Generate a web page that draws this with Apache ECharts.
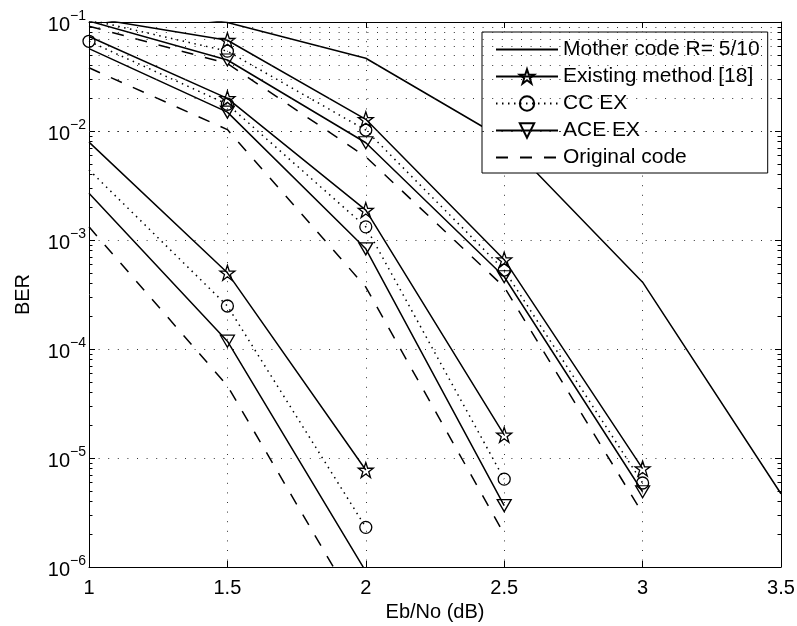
<!DOCTYPE html>
<html>
<head>
<meta charset="utf-8">
<script src="https://cdn.jsdelivr.net/npm/echarts@6/dist/echarts.min.js"></script>
<style>
html, body { margin: 0; padding: 0; background: #fff; }
#main { width: 797px; height: 626px; }
</style>
</head>
<body>
<div id="main"></div>
<script>
var ebno = [1, 1.5, 2, 2.5, 3, 3.5];

var motherCode = [0.14, 0.099, 0.0465, 0.0084, 4.1e-4, 4.7e-6];

// three groups of curves: A (top right), B (middle), C (bottom left)
var existingA = [0.11, 0.068, 0.0128, 6.6e-4, 8.0e-6];
var existingB = [0.0736, 0.0199, 1.88e-3, 1.63e-5];
var existingC = [7.9e-3, 5.0e-4, 7.76e-6];

var ccA = [0.105, 0.054, 0.0102, 5.3e-4, 5.9e-6];
var ccB = [0.0665, 0.0176, 1.32e-3, 6.4e-6];
var ccC = [4.4e-3, 2.48e-4, 2.31e-6];

var aceA = [0.102, 0.0448, 0.0078, 4.6e-4, 4.9e-6];
var aceB = [0.057, 0.0149, 8.3e-4, 3.66e-6];
var aceC = [2.68e-3, 1.18e-4, 9.1e-7];

var origA = [0.0915, 0.0416, 0.0058, 3.7e-4, 3.1e-6];
var origB = [0.038, 0.0103, 3.7e-4, 2.0e-6];
var origC = [1.32e-3, 4.6e-5, 3.1e-7];

var names = ['Mother code R= 5/10', 'Existing method [18]', 'CC EX', 'ACE EX', 'Original code'];

var FONT = '"Liberation Sans", Arial, Helvetica, sans-serif';
var STAR = 'path://M50,2 L61.8,36.3 L97.6,36.3 L68.6,57.6 L79.6,91.9 L50,70.6 L20.4,91.9 L31.4,57.6 L2.4,36.3 L38.2,36.3 Z';
var TRI = 'path://M0,0 L100,0 L50,86 Z';
var GRID_DOT = { color: '#333', width: 1, type: [1, 8.6] };

// first point (x = 1) has no marker, except where the figure shows one
function toPoints(vals, markFirst) {
	var pts = [];
	for (var i = 0; i < vals.length; i++) {
		var p = { value: [ebno[i], vals[i]] };
		if (i === 0 && !markFirst) {
			p.symbol = 'none';
		}
		pts.push(p);
	}
	return pts;
}

function curve(name, vals, symbol, size, dash, markFirst) {
	var plain = symbol === 'none';
	return {
		name: name,
		type: 'line',
		data: toPoints(vals, markFirst),
		// plain lines keep an invisible marker so the legend shows only the line
		symbol: plain ? 'circle' : symbol,
		symbolSize: plain ? 1 : size,
		showSymbol: !plain,
		lineStyle: { color: '#000', width: 1.5, type: dash },
		itemStyle: { color: 'rgba(0,0,0,0)', borderColor: plain ? 'rgba(0,0,0,0)' : '#000', borderWidth: plain ? 0 : 1.3 },
		emphasis: { disabled: true },
		animation: false,
		z: 3
	};
}

// minor log grid lines and minor ticks on left/right edges
var minorVals = [];
for (var k = -6; k < -1; k++) {
	for (var m = 2; m < 10; m++) {
		minorVals.push(m * Math.pow(10, k));
	}
}
var gridMarks = [];
minorVals.forEach(function(v) {
	gridMarks.push({ yAxis: v, lineStyle: GRID_DOT });
	gridMarks.push([{ coord: [1, v] }, { coord: [1.0126, v], lineStyle: { color: '#000', width: 1, type: 'solid' } }]);
	gridMarks.push([{ coord: [3.4874, v] }, { coord: [3.5, v], lineStyle: { color: '#000', width: 1, type: 'solid' } }]);
});

var series = [
	curve(names[0], motherCode, 'none', 0, 'solid', false),
	curve(names[1], existingA, STAR, 15, 'solid', false),
	curve(names[1], existingB, STAR, 15, 'solid', false),
	curve(names[1], existingC, STAR, 15, 'solid', false),
	curve(names[2], ccA, 'circle', 12, [1.5, 4.5], false),
	curve(names[2], ccB, 'circle', 12, [1.5, 4.5], true),
	curve(names[2], ccC, 'circle', 12, [1.5, 4.5], false),
	curve(names[3], aceA, TRI, [14, 12], 'solid', false),
	curve(names[3], aceB, TRI, [14, 12], 'solid', false),
	curve(names[3], aceC, TRI, [14, 12], 'solid', false),
	curve(names[4], origA, 'none', 0, [12, 12], false),
	curve(names[4], origB, 'none', 0, [12, 12], false),
	curve(names[4], origC, 'none', 0, [12, 12], false),
	{
		name: 'minor grid',
		type: 'line',
		data: [],
		silent: true,
		animation: false,
		z: 1,
		markLine: {
			silent: true,
			animation: false,
			symbol: ['none', 'none'],
			label: { show: false },
			emphasis: { disabled: true },
			data: gridMarks
		}
	}
];

var chart = echarts.init(document.getElementById('main'));

var axisBase = {
	axisLine: { show: true, onZero: false, lineStyle: { color: '#000', width: 1 } },
	axisTick: { show: true, inside: true, length: 6, lineStyle: { color: '#000', width: 1 } }
};

var option = {
	backgroundColor: '#fff',
	animation: false,
	grid: { left: 89, right: 16, top: 22, bottom: 59, outerBoundsMode: 'none' },
	legend: {
		data: names,
		orient: 'vertical',
		left: 482,
		top: 32,
		itemWidth: 62,
		itemHeight: 18,
		itemGap: 6,
		padding: [7, 8, 5, 13],
		backgroundColor: '#fff',
		borderColor: '#000',
		borderWidth: 1,
		borderRadius: 0,
		selectedMode: false,
		textStyle: { color: '#000', fontSize: 21, fontFamily: FONT, lineHeight: 20 }
	},
	xAxis: [
		echarts.util.merge({
			type: 'value', min: 1, max: 3.5, interval: 0.5, position: 'bottom',
			axisLabel: { color: '#000', fontSize: 20, fontFamily: FONT, margin: 11 },
			splitLine: { show: true, lineStyle: GRID_DOT },
			name: 'Eb/No (dB)', nameLocation: 'middle', nameGap: 33,
			nameTextStyle: { color: '#000', fontSize: 20, fontFamily: FONT }
		}, axisBase),
		echarts.util.merge({
			type: 'value', min: 1, max: 3.5, interval: 0.5, position: 'top',
			axisLabel: { show: false },
			splitLine: { show: false }
		}, axisBase)
	],
	yAxis: [
		echarts.util.merge({
			type: 'log', logBase: 10, min: 1e-6, max: 0.1, position: 'left',
			axisLabel: {
				margin: 3,
				formatter: function(v) {
					var e = Math.round(Math.log(v) / Math.LN10);
					return '{b|10}{sup|\u2212' + (-e) + '}';
				},
				rich: {
					b: { color: '#000', fontSize: 20, fontFamily: FONT, padding: [6, 0, 0, 0] },
					sup: { color: '#000', fontSize: 14, fontFamily: FONT, padding: [0, 0, 12, 0] }
				}
			},
			splitLine: { show: true, lineStyle: GRID_DOT },
			name: 'BER', nameLocation: 'middle', nameGap: 56,
			nameTextStyle: { color: '#000', fontSize: 20, fontFamily: FONT }
		}, axisBase),
		echarts.util.merge({
			type: 'log', logBase: 10, min: 1e-6, max: 0.1, position: 'right',
			axisLabel: { show: false },
			splitLine: { show: false }
		}, axisBase)
	],
	series: series
};

chart.setOption(option);
</script>
</body>
</html>
